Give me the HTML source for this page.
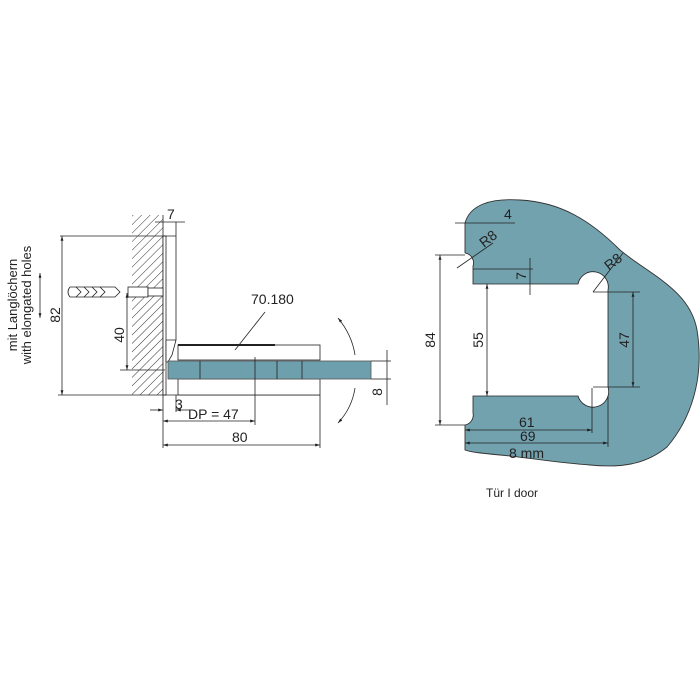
<!DOCTYPE html>
<html><head><meta charset="utf-8"><style>
html,body{margin:0;padding:0;background:#fff;}
svg{display:block}
text{font-family:"Liberation Sans",sans-serif;fill:#222;}
</style></head><body>
<svg width="700" height="700" viewBox="0 0 700 700" xmlns="http://www.w3.org/2000/svg">
<defs>
<pattern id="h" width="6" height="6" patternUnits="userSpaceOnUse" patternTransform="rotate(45)">
<line x1="0" y1="0" x2="0" y2="6" stroke="#333" stroke-width="1"/>
</pattern>
<marker id="a" viewBox="0 0 10 10" refX="10" refY="5" markerWidth="6" markerHeight="6" orient="auto-start-reverse"><path d="M0,2 L10,5 L0,8 z" fill="#222"/></marker>
</defs>
<g stroke="#222" stroke-width="0.8" fill="none">
<!-- wall -->
<rect x="132" y="215" width="31" height="180" fill="url(#h)" stroke="none"/>
<line x1="163" y1="215" x2="163" y2="395"/>
<!-- plate -->
<rect x="163" y="236" width="3" height="159" fill="#fff"/>
<line x1="176" y1="222" x2="176" y2="340"/>
<line x1="60" y1="236" x2="176" y2="236"/>
<line x1="155" y1="222" x2="185" y2="222"/>
<line x1="58" y1="395" x2="320" y2="395"/>
<line x1="62" y1="236" x2="62" y2="395" marker-start="url(#a)" marker-end="url(#a)"/>
<!-- dowel -->
<path d="M70,287 L115,287 L120,292 L115,297 L70,297 Q66,292 70,287 Z" fill="#fff"/>
<path d="M76,287 l5,5 -5,5 M84,287 l5,5 -5,5 M92,287 l5,5 -5,5 M100,287 l5,5 -5,5" />
<rect x="128" y="287" width="20" height="10" fill="#fff"/>
<rect x="148" y="288" width="15" height="8" fill="#fff"/>
<line x1="127" y1="293" x2="127" y2="370" marker-start="url(#a)" marker-end="url(#a)"/>
<line x1="120" y1="370" x2="165" y2="370"/>
<line x1="40" y1="273" x2="40" y2="318" marker-start="url(#a)" marker-end="url(#a)"/>
<!-- clamp -->
<path d="M166,340 L176,340 L172,355 L168,362 L166,362 Z" fill="#fff"/>
<rect x="178" y="345" width="142" height="15" fill="#fff"/>
<line x1="178" y1="345" x2="275" y2="345" stroke-width="2"/>
<rect x="178" y="379" width="142" height="16" fill="#fff"/>
<rect x="168" y="361" width="203" height="18" fill="#6e9fad" stroke="#555"/>
<line x1="371" y1="361" x2="385" y2="361"/><line x1="371" y1="379" x2="385" y2="379"/>
<line x1="200" y1="361" x2="200" y2="379"/>
<line x1="277" y1="361" x2="277" y2="379"/>
<line x1="302" y1="361" x2="302" y2="379"/>
<line x1="255" y1="357" x2="255" y2="425"/>
<line x1="265" y1="312" x2="235" y2="350"/>
<!-- bottom dims -->
<line x1="163" y1="395" x2="163" y2="448"/>
<line x1="176" y1="395" x2="176" y2="412"/>
<line x1="150" y1="410" x2="163" y2="410" marker-end="url(#a)"/>
<line x1="190" y1="410" x2="176" y2="410" marker-end="url(#a)"/>
<line x1="163" y1="421" x2="255" y2="421" marker-start="url(#a)" marker-end="url(#a)"/>
<line x1="320" y1="395" x2="320" y2="448"/>
<line x1="163" y1="445" x2="320" y2="445" marker-start="url(#a)" marker-end="url(#a)"/>
<line x1="387" y1="350" x2="387" y2="405"/>
<line x1="385" y1="361" x2="391" y2="361"/><line x1="385" y1="379" x2="391" y2="379"/>
<!-- rotation arrows -->
<path d="M338,318 Q352,335 355,355" marker-start="url(#a)"/>
<path d="M355,388 Q352,408 338,423" marker-end="url(#a)"/>
</g>
<g font-size="14">
<text x="167" y="219">7</text>
<text transform="translate(60,315) rotate(-90)" text-anchor="middle">82</text>
<text transform="translate(124,335) rotate(-90)" text-anchor="middle">40</text>
<text transform="translate(17,305) rotate(-90)" text-anchor="middle" font-size="13">mit Langlöchern</text>
<text transform="translate(31,305) rotate(-90)" text-anchor="middle" font-size="13">with elongated holes</text>
<text x="251" y="304">70.180</text>
<text x="175" y="409">3</text>
<text x="188" y="419">DP = 47</text>
<text x="232" y="442">80</text>
<text transform="translate(382,392) rotate(-90)" text-anchor="middle">8</text>
</g>
<!-- right glass -->
<path d="M465,223 C470,205 490,198 520,200 C560,202 590,220 620,250 C650,275 690,290 697,330 C705,380 690,420 667,447 C645,465 620,468 590,465 C560,463 530,458 500,455 C480,453 470,452 465,450 Z" fill="#73a2af" stroke="#333" stroke-width="0.9"/>
<path d="M460,253 L465,253 A10,10 0 0 1 473,266 L473,284 L578,284 A15,15 0 1 1 608,290 L608,387 A15,15 0 1 1 578,396 L473,396 L473,413 A10,10 0 0 1 465,425 L460,425 Z" fill="#fff" stroke="none"/>
<g stroke="#222" stroke-width="0.8" fill="none">
<path d="M465,253 A10,10 0 0 1 473,266 L473,284 L578,284 A15,15 0 1 1 608,290 L608,387 A15,15 0 1 1 578,396 L473,396 L473,413 A10,10 0 0 1 465,425"/>
<line x1="455" y1="223" x2="515" y2="223"/>
<line x1="457" y1="268" x2="493" y2="243"/>
<line x1="473" y1="269" x2="533" y2="269"/>
<line x1="530" y1="258" x2="530" y2="295"/>
<line x1="593" y1="292" x2="623" y2="253"/>
<line x1="593" y1="292" x2="640" y2="292"/>
<line x1="593" y1="387" x2="640" y2="387"/>
<line x1="633" y1="292" x2="633" y2="387" marker-start="url(#a)" marker-end="url(#a)"/>
<line x1="435" y1="255" x2="465" y2="255"/>
<line x1="435" y1="425" x2="465" y2="425"/>
<line x1="440" y1="255" x2="440" y2="425" marker-start="url(#a)" marker-end="url(#a)"/>
<line x1="487" y1="284" x2="487" y2="396" marker-start="url(#a)" marker-end="url(#a)"/>
<line x1="592" y1="388" x2="592" y2="433"/>
<line x1="465" y1="430" x2="592" y2="430" marker-start="url(#a)" marker-end="url(#a)"/>
<line x1="608" y1="396" x2="608" y2="447"/>
<line x1="465" y1="443" x2="608" y2="443" marker-start="url(#a)" marker-end="url(#a)"/>
</g>
<g font-size="14">
<text x="504" y="219">4</text>
<text transform="translate(484,248) rotate(-38)">R8</text>
<text transform="translate(526,276) rotate(-90)" text-anchor="middle">7</text>
<text transform="translate(609,271) rotate(-38)">R8</text>
<text transform="translate(629,340) rotate(-90)" text-anchor="middle">47</text>
<text transform="translate(435,340) rotate(-90)" text-anchor="middle">84</text>
<text transform="translate(483,340) rotate(-90)" text-anchor="middle">55</text>
<text x="519" y="427">61</text>
<text x="520" y="441">69</text>
<text x="509" y="458">8 mm</text>
<text x="512" y="497" text-anchor="middle" font-size="12">Tür I door</text>
</g>
</svg>
</body></html>
